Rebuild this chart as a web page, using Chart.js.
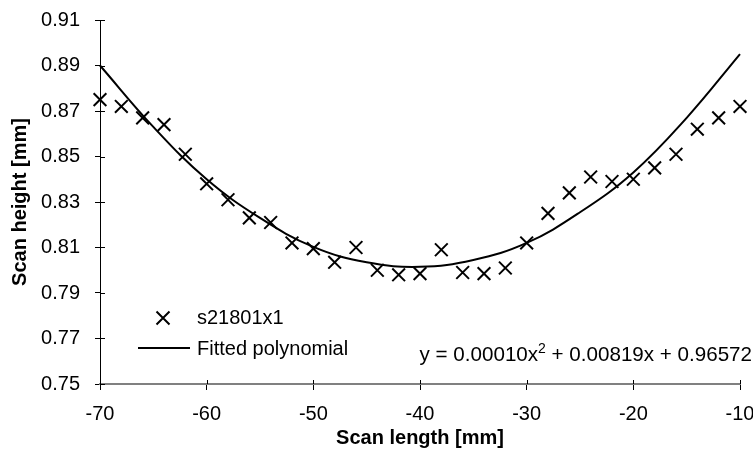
<!DOCTYPE html>
<html><head><meta charset="utf-8">
<script src="https://cdn.jsdelivr.net/npm/chart.js@4/dist/chart.umd.min.js"></script>
<style>html,body{margin:0;padding:0;background:#fff}#wrap{width:753px;height:450px}</style>
</head><body><div id="wrap"><canvas id="c" width="753" height="450"></canvas></div>
<script>
// ---- data ----
const scanLength = [-70,-68,-66,-64,-62,-60,-58,-56,-54,-52,-50,-48,-46,-44,-42,-40,-38,-36,-34,-32,-30,-28,-26,-24,-22,-20,-18,-16,-14,-12,-10];
const scanHeight = [0.875,0.872,0.867,0.864,0.851,0.838,0.831,0.823,0.821,0.812,0.8095,0.8035,0.810,0.800,0.798,0.7985,0.809,0.799,0.7985,0.801,0.812,0.825,0.834,0.841,0.839,0.840,0.845,0.851,0.862,0.867,0.872];
const fitLength = [-70,-65,-60,-55,-50,-45,-40,-35,-30,-25,-20,-15,-10];
const fitHeight = [0.890,0.863,0.840,0.823,0.8103,0.8035,0.8015,0.8045,0.812,0.8255,0.843,0.867,0.895];
const xTickValues = [-70,-60,-50,-40,-30,-20,-10];
const yTickLabels = ['0.75','0.77','0.79','0.81','0.83','0.85','0.87','0.89','0.91'];
const seriesNames = ['s21801x1','Fitted polynomial'];
const equationParts = ['y = 0.00010x','2',' + 0.00819x + 0.96572'];
const xTitle = 'Scan length [mm]';
const yTitle = 'Scan height [mm]';

const FONT = 'Liberation Sans, Arial, Helvetica, sans-serif';

const extras = {
  id: 'extras',
  afterDraw(chart) {
    const ctx = chart.ctx;
    const xs = chart.scales.x, ys = chart.scales.y;
    const area = chart.chartArea;
    ctx.save();
    ctx.strokeStyle = '#000';
    ctx.lineWidth = 1;
    // inner half of the crossing tick marks
    ctx.beginPath();
    ys.ticks.forEach(t => {
      const py = Math.round(ys.getPixelForValue(t.value)) + 0.5;
      ctx.moveTo(area.left, py); ctx.lineTo(area.left + 5, py);
    });
    xs.ticks.forEach(t => {
      const px = Math.round(xs.getPixelForValue(t.value)) + 0.5;
      ctx.moveTo(px, area.bottom); ctx.lineTo(px, area.bottom - 4);
    });
    ctx.stroke();

    // legend
    const lx = area.left + 63, ly1 = area.top + 298, ly2 = area.top + 328;
    ctx.lineWidth = 2;
    ctx.beginPath();
    ctx.moveTo(lx - 6.5, ly1 - 6.5); ctx.lineTo(lx + 6.5, ly1 + 6.5);
    ctx.moveTo(lx + 6.5, ly1 - 6.5); ctx.lineTo(lx - 6.5, ly1 + 6.5);
    ctx.stroke();
    ctx.beginPath();
    ctx.moveTo(area.left + 38, ly2); ctx.lineTo(area.left + 90, ly2);
    ctx.stroke();
    ctx.fillStyle = '#000';
    ctx.font = '20px ' + FONT;
    ctx.textBaseline = 'middle';
    ctx.textAlign = 'left';
    ctx.fillText(seriesNames[0], area.left + 97, ly1);
    ctx.fillText(seriesNames[1], area.left + 97, ly2 + 1);

    // equation
    ctx.textBaseline = 'alphabetic';
    const base = area.top + 341;
    const big = '20.6px ' + FONT, small = '14px ' + FONT;
    ctx.font = big; const w0 = ctx.measureText(equationParts[0]).width;
    const w2 = ctx.measureText(equationParts[2]).width;
    ctx.font = small; const w1 = ctx.measureText(equationParts[1]).width;
    let ex = 752 - (w0 + w1 + w2);
    ctx.font = big; ctx.fillText(equationParts[0], ex, base); ex += w0;
    ctx.font = small; ctx.fillText(equationParts[1], ex, base - 8); ex += w1;
    ctx.font = big; ctx.fillText(equationParts[2], ex, base);
    ctx.restore();
  }
};

new Chart(document.getElementById('c'), {
  type: 'scatter',
  data: {
    datasets: [
      {
        label: seriesNames[0],
        data: scanLength.map((x, i) => ({x, y: scanHeight[i]})),
        showLine: false,
        pointStyle: 'crossRot',
        pointRadius: 9,
        pointBorderWidth: 2,
        borderColor: '#000',
        backgroundColor: '#000',
        clip: false
      },
      {
        label: seriesNames[1],
        data: fitLength.map((x, i) => ({x, y: fitHeight[i]})),
        showLine: true,
        pointRadius: 0,
        borderWidth: 2,
        borderColor: '#000',
        backgroundColor: '#000',
        tension: 0.4,
        clip: false
      }
    ]
  },
  options: {
    responsive: false,
    devicePixelRatio: 1,
    animation: false,
    layout: { padding: { top: 20, right: 13, bottom: 0, left: 0 } },
    plugins: { legend: { display: false }, tooltip: { enabled: false } },
    scales: {
      x: {
        type: 'linear', position: 'bottom', min: -70, max: -10,
        afterBuildTicks: s => { s.ticks = xTickValues.map(v => ({value: v})); },
        afterFit: s => { s.height = 66; s.paddingLeft = 0; s.paddingRight = 0; },
        ticks: { color: '#000', font: { family: FONT, size: 20 }, padding: 12, maxRotation: 0, autoSkip: false,
                 callback: v => String(v) },
        grid: { drawOnChartArea: false, drawTicks: true, tickLength: 6, color: '#000', lineWidth: 1 },
        border: { color: '#808080', width: 2 },
        title: { display: true, text: xTitle, color: '#000', font: { family: FONT, size: 20, weight: 'bold' },
                 padding: { top: 0, bottom: 0 } }
      },
      y: {
        type: 'linear', position: 'left', min: 0.75, max: 0.91,
        afterBuildTicks: s => { s.ticks = yTickLabels.map(l => ({value: parseFloat(l)})); },
        afterFit: s => { s.width = 100; s.paddingTop = 0; s.paddingBottom = 0; },
        ticks: { color: '#000', font: { family: FONT, size: 20 }, padding: 15, autoSkip: false,
                 callback: (v, i) => yTickLabels[i] },
        grid: { drawOnChartArea: false, drawTicks: true, tickLength: 5, color: '#000', lineWidth: 1 },
        border: { color: '#000', width: 1 },
        title: { display: true, text: yTitle, color: '#000', font: { family: FONT, size: 20, weight: 'bold' },
                 padding: { top: 8, bottom: 0 } }
      }
    }
  },
  plugins: [extras]
});
</script>
</body></html>
